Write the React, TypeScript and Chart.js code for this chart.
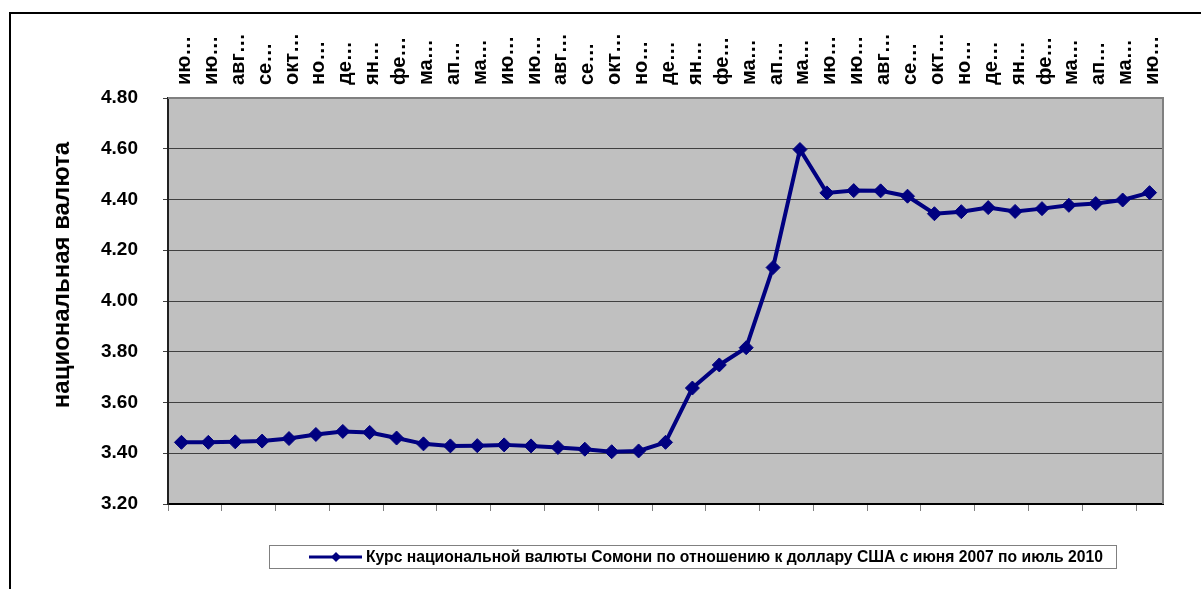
import React, { useEffect, useRef } from "react";
import { Chart, registerables } from "chart.js";

Chart.register(...registerables);

const monthLabels: string[] = [
  "ию…", "ию…", "авг…", "се…", "окт…", "но…", "де…", "ян…", "фе…", "ма…", "ап…", "ма…",
  "ию…", "ию…", "авг…", "се…", "окт…", "но…", "де…", "ян…", "фе…", "ма…", "ап…", "ма…",
  "ию…", "ию…", "авг…", "се…", "окт…", "но…", "де…", "ян…", "фе…", "ма…", "ап…", "ма…",
  "ию…",
];

const somoniRate: number[] = [
  3.443, 3.443, 3.445, 3.448, 3.458, 3.474, 3.486, 3.482, 3.46, 3.437, 3.429, 3.43,
  3.433, 3.429, 3.423, 3.416, 3.406, 3.409, 3.443, 3.657, 3.748, 3.816, 4.132, 4.597,
  4.426, 4.435, 4.434, 4.413, 4.344, 4.352, 4.368, 4.353, 4.364, 4.377, 4.384, 4.398,
  4.427,
];

const seriesLabel =
  "Курс национальной валюты Сомони по отношению к доллару США с июня 2007 по июль 2010";
const yAxisTitle = "национальная валюта";

const FONT = "'Liberation Sans', Arial, sans-serif";
const NAVY = "#000080";

const decorPlugin = {
  id: "decor",
  beforeDraw(chart: any) {
    const { ctx, chartArea } = chart;
    ctx.save();
    ctx.fillStyle = "#ffffff";
    ctx.fillRect(0, 0, chart.width, chart.height);
    // outer frame (top & left)
    ctx.fillStyle = "#000000";
    ctx.fillRect(9, 12, chart.width - 9, 2);
    ctx.fillRect(9, 12, 2, chart.height - 12);
    // plot area background
    ctx.fillStyle = "#c0c0c0";
    ctx.fillRect(chartArea.left, chartArea.top, chartArea.right - chartArea.left, chartArea.bottom - chartArea.top);
    ctx.restore();
  },
  afterDraw(chart: any) {
    const { ctx, chartArea } = chart;
    ctx.save();
    // plot border top/right
    ctx.strokeStyle = "#808080";
    ctx.lineWidth = 2;
    ctx.beginPath();
    ctx.moveTo(chartArea.left, chartArea.top);
    ctx.lineTo(chartArea.right, chartArea.top);
    ctx.lineTo(chartArea.right, chartArea.bottom);
    ctx.stroke();

    // y axis title
    ctx.fillStyle = "#000000";
    ctx.font = `bold 24px ${FONT}`;
    ctx.textAlign = "center";
    ctx.textBaseline = "middle";
    ctx.translate(62, 275);
    ctx.rotate(-Math.PI / 2);
    ctx.fillText(yAxisTitle, 0, 0);
    ctx.restore();

    // legend
    const ds = chart.data.datasets[0];
    ctx.save();
    const bx = 269.5, by = 545.5, bw = 847, bh = 23;
    ctx.fillStyle = "#ffffff";
    ctx.fillRect(bx, by, bw, bh);
    ctx.strokeStyle = "#808080";
    ctx.lineWidth = 1;
    ctx.strokeRect(bx, by, bw, bh);
    const cy = by + bh / 2;
    ctx.strokeStyle = ds.borderColor;
    ctx.lineWidth = 3;
    ctx.beginPath();
    ctx.moveTo(309, cy);
    ctx.lineTo(362, cy);
    ctx.stroke();
    ctx.fillStyle = ds.pointBackgroundColor;
    ctx.beginPath();
    const r = 5;
    ctx.moveTo(336, cy - r);
    ctx.lineTo(336 + r, cy);
    ctx.lineTo(336, cy + r);
    ctx.lineTo(336 - r, cy);
    ctx.closePath();
    ctx.fill();
    ctx.fillStyle = "#000000";
    ctx.font = `bold 15.7px ${FONT}`;
    ctx.textAlign = "left";
    ctx.textBaseline = "middle";
    ctx.fillText(ds.label, 366, cy + 1);
    ctx.restore();
  },
};

export default function App() {
  const canvasRef = useRef<HTMLCanvasElement | null>(null);

  useEffect(() => {
    const canvas = canvasRef.current;
    if (!canvas) return;
    const chart = new Chart(canvas, {
      type: "line",
      data: {
        labels: monthLabels,
        datasets: [
          {
            label: seriesLabel,
            data: somoniRate,
            borderColor: NAVY,
            backgroundColor: NAVY,
            borderWidth: 4,
            tension: 0,
            pointStyle: "rectRot",
            pointRadius: 7,
            pointBorderWidth: 1,
            pointBackgroundColor: NAVY,
            pointBorderColor: NAVY,
            xAxisID: "x",
            yAxisID: "y",
          },
        ],
      },
      options: {
        responsive: false,
        animation: false,
        devicePixelRatio: 1,
        layout: { padding: { left: 0, right: 38, top: 0, bottom: 0 } },
        plugins: {
          legend: { display: false },
          tooltip: { enabled: false },
          title: { display: false },
        },
        scales: {
          xTop: {
            type: "category",
            position: "top",
            offset: true,
            grid: { display: false, drawTicks: false },
            border: { display: false },
            ticks: {
              autoSkip: false,
              maxRotation: 90,
              minRotation: 90,
              padding: 13,
              labelOffset: 27,
              color: "#000000",
              font: { family: FONT, size: 20, weight: "bold" },
            },
            afterFit: (scale: any) => {
              scale.height = 98;
            },
          },
          x: {
            type: "category",
            position: "bottom",
            offset: true,
            grid: {
              offset: true,
              drawOnChartArea: false,
              drawTicks: true,
              tickLength: 7,
              lineWidth: 1,
              color: (ctx: any) =>
                ctx.index !== undefined && ctx.index % 2 === 0 ? "#808080" : "rgba(0,0,0,0)",
            },
            border: { display: true, color: "#000000", width: 2 },
            ticks: { display: false },
            afterFit: (scale: any) => {
              scale.height = 85;
            },
          },
          y: {
            type: "linear",
            position: "left",
            min: 3.2,
            max: 4.8,
            grid: {
              color: "#404040",
              lineWidth: 1,
              tickLength: 5,
              drawTicks: true,
            },
            border: { display: true, color: "#202020", width: 2 },
            ticks: {
              stepSize: 0.2,
              padding: 25,
              color: "#000000",
              font: { family: FONT, size: 19, weight: "bold" },
              callback: (v: any) => Number(v).toFixed(2),
            },
            afterFit: (scale: any) => {
              scale.width = 168;
            },
          },
        },
      },
      plugins: [decorPlugin],
    });
    return () => chart.destroy();
  }, []);

  return (
    <div style={{ position: "absolute", left: 0, top: 0, width: 1201, height: 589 }}>
      <canvas ref={canvasRef} width={1201} height={589} style={{ display: "block" }} />
    </div>
  );
}
